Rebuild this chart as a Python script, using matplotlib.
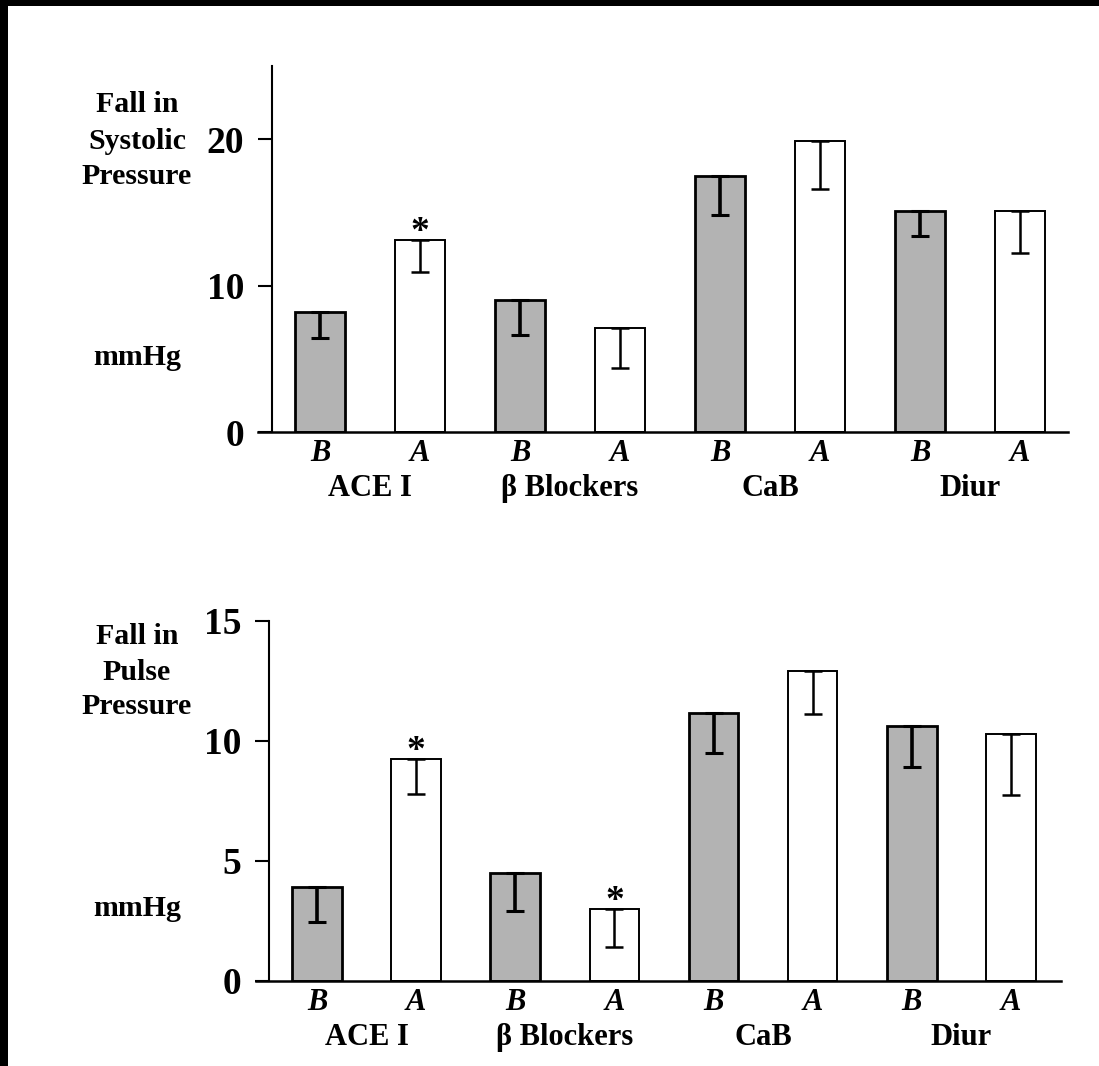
import numpy as np
import matplotlib
matplotlib.use("Agg")
import matplotlib.pyplot as plt
from matplotlib.patches import Rectangle

plt.rcParams['font.family'] = ['Liberation Serif', 'DejaVu Serif']
plt.rcParams['font.weight'] = 'bold'

# data (mmHg)
groups = ['ACE I', 'β Blockers', 'CaB', 'Diur']
systolic_before = [8.2, 9.0, 17.5, 15.1]
systolic_after = [13.1, 7.1, 19.9, 15.1]
systolic_before_err = [1.8, 2.4, 2.7, 1.7]
systolic_after_err = [2.2, 2.7, 3.3, 2.9]
systolic_star = [True, False, False, False]   # on the "after" bars

pulse_before = [3.9, 4.5, 11.15, 10.6]
pulse_after = [9.25, 3.0, 12.9, 10.3]
pulse_before_err = [1.45, 1.6, 1.65, 1.7]
pulse_after_err = [1.45, 1.6, 1.8, 2.55]
pulse_star = [True, True, False, False]

W, H = 1099, 1066
fig = plt.figure(figsize=(W / 100, H / 100), dpi=100)
fig.patch.set_facecolor('white')

# black scan borders (top and left)
fig.patches.append(Rectangle((0, 1 - 6 / H), 1, 6 / H, transform=fig.transFigure,
                             facecolor='black', edgecolor='none', zorder=10))
fig.patches.append(Rectangle((0, 0), 8 / W, 1, transform=fig.transFigure,
                             facecolor='black', edgecolor='none', zorder=10))


def panel(rect, xlim, spine_x, ylim, yticks, before, after, berr, aerr, stars, labels):
    ax = fig.add_axes(rect)
    n = len(groups)
    xb = np.arange(n) * 2
    xa = xb + 1
    ax.bar(xb, before, width=0.5, color='#b3b3b3', edgecolor='black', linewidth=2.0, zorder=2)
    ax.bar(xa, after, width=0.5, color='white', edgecolor='black', linewidth=1.4, zorder=2)
    ax.errorbar(xb, before, yerr=[berr, np.zeros(n)], fmt='none', ecolor='black',
                elinewidth=2.6, capsize=6.5, capthick=2.2, zorder=3)
    ax.errorbar(xa, after, yerr=[aerr, np.zeros(n)], fmt='none', ecolor='black',
                elinewidth=1.8, capsize=6.5, capthick=1.8, zorder=3)
    for i in range(n):
        if stars[i]:
            ax.annotate('*', (xa[i], after[i]), xytext=(0, -7), textcoords='offset points',
                        ha='center', va='bottom', fontsize=27, fontweight='bold')
    ax.set_xlim(*xlim)
    ax.set_ylim(*ylim)
    for s in ['top', 'right']:
        ax.spines[s].set_visible(False)
    ax.spines['left'].set_position(('data', spine_x))
    ax.spines['left'].set_linewidth(1.5)
    ax.spines['bottom'].set_linewidth(1.8)
    ax.set_yticks(yticks)
    ax.set_yticklabels([str(t) for t in yticks], fontsize=27, fontweight='bold')
    ax.tick_params(axis='y', direction='out', length=10, width=1.5, pad=10)
    pos = np.arange(2 * n)
    ax.set_xticks(pos)
    ax.set_xticklabels(['B', 'A'] * n, fontsize=22, fontweight='bold', fontstyle='italic')
    ax.tick_params(axis='x', length=0, pad=5)
    for g in range(n):
        ax.annotate(groups[g], (xb[g] + 0.5, 0), xycoords=('data', 'axes fraction'),
                    xytext=(0, -40.5), textcoords='offset points',
                    ha='center', va='center', fontsize=22, fontweight='bold')
    cx = 137 / W
    for text, y in labels:
        fig.text(cx, 1 - y / H, text, ha='center', va='center', fontsize=21.5, fontweight='bold')
    return ax


panel([258 / W, 634 / H, 810 / W, 366 / H], (-0.62, 7.48), -0.48, (0, 25), [0, 10, 20],
      systolic_before, systolic_after, systolic_before_err, systolic_after_err, systolic_star,
      [('Fall in', 104), ('Systolic', 141), ('Pressure', 176), ('mmHg', 358)])

panel([256 / W, 85 / H, 805 / W, 360.3 / H], (-0.615, 7.505), -0.484, (0, 15), [0, 5, 10, 15],
      pulse_before, pulse_after, pulse_before_err, pulse_after_err, pulse_star,
      [('Fall in', 636), ('Pulse', 672), ('Pressure', 706), ('mmHg', 908)])

fig.savefig('out.png', dpi=100, facecolor='white')
